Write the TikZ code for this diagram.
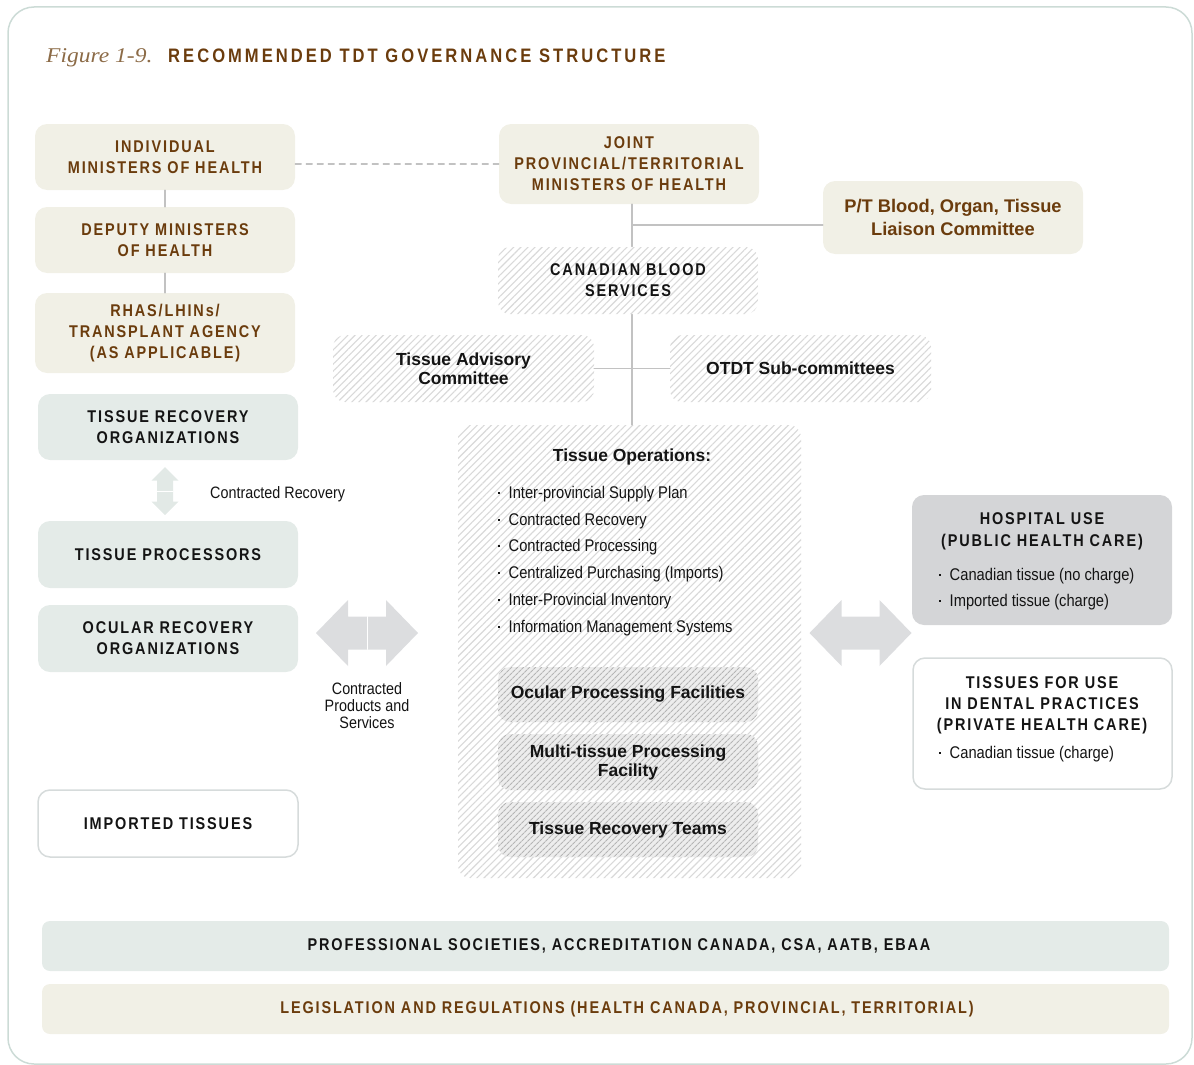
\documentclass[tikz,border=0pt]{standalone}
\usepackage{fontspec}
\usepackage{tikz}
\usetikzlibrary{patterns.meta}
\setmainfont{Liberation Sans}
\newfontfamily\narrowfont[FakeStretch=0.87]{Liberation Sans}
\newfontfamily\capsfont[FakeStretch=0.85,LetterSpace=11]{Liberation Sans}
\newfontfamily\headfont[FakeStretch=0.85,LetterSpace=15.5]{Liberation Sans}
\newfontfamily\figfont[FakeStretch=1.12]{Liberation Serif}
\newcommand{\dotmark}{\raisebox{4.6pt}{\rule{2pt}{2pt}}\hspace{8.5pt}}
\definecolor{beige}{rgb}{0.945,0.941,0.902}
\definecolor{sage}{rgb}{0.894,0.922,0.910}
\definecolor{darkbrown}{rgb}{0.42,0.235,0.05}
\definecolor{figbrown}{rgb}{0.55,0.42,0.28}
\definecolor{nearblack}{rgb}{0.08,0.08,0.08}
\definecolor{linegray}{rgb}{0.76,0.76,0.76}
\definecolor{hatchgray}{rgb}{0.85,0.85,0.85}
\definecolor{darkhatch}{rgb}{0.71,0.71,0.71}
\definecolor{hospgray}{rgb}{0.831,0.835,0.843}
\definecolor{arrowgray}{rgb}{0.863,0.867,0.875}
\definecolor{arrowsage}{rgb}{0.886,0.914,0.902}
\definecolor{framegray}{rgb}{0.80,0.86,0.84}
\definecolor{boxline}{rgb}{0.84,0.86,0.86}
\tikzstyle{every node}=[font=\narrowfont\fontsize{16.5}{17}\selectfont]

\begin{document}
\begin{tikzpicture}[x=1pt,y=-1pt,line cap=round,line join=round,
  tbox/.style={rounded corners=12pt,minimum width=260pt,minimum height=66pt,inner sep=0pt,align=center},
  capsbrown/.style={tbox,fill=beige,text=darkbrown,font=\capsfont\bfseries\fontsize{17}{21}\selectfont},
  capssage/.style={tbox,fill=sage,text=nearblack,font=\capsfont\bfseries\fontsize{17}{21}\selectfont},
  capstext/.style={inner sep=0pt,align=center,font=\capsfont\bfseries\fontsize{17}{21}\selectfont},
  hatchbox/.style={tbox,preaction={fill=white},pattern={Lines[angle=45,distance=5pt,line width=1.1pt]},pattern color=hatchgray,text=nearblack},
  darkbox/.style={tbox,minimum height=55pt,preaction={fill=gray!14},pattern={Lines[angle=45,distance=4pt,line width=1.1pt]},pattern color=darkhatch,text=nearblack,font=\bfseries\fontsize{17.5}{19}\selectfont},
  boldmixed/.style={font=\bfseries\fontsize{17.5}{19}\selectfont},
  conn/.style={linegray,line width=1.5pt},
  dashline/.style={linegray,line width=1.2pt,dash pattern=on 6pt off 5pt},
  bullet/.style={anchor=west,inner sep=0pt,text=nearblack,font=\narrowfont\fontsize{16.9}{17}\selectfont}]
\useasboundingbox (0,0) rectangle (1194,1065);
\draw [framegray,line width=1.5pt,rounded corners=26pt] (8,7) rectangle (1192,1064);
\node [anchor=base west,inner sep=0pt,text=figbrown,font=\figfont\itshape\fontsize{21}{24}\selectfont] (fig) at (46,63) {Figure 1-9.};
\node [anchor=base west,inner sep=0pt,text=darkbrown,font=\headfont\bfseries\fontsize{19.5}{22}\selectfont] (title) at (168,63) {RECOMMENDED TDT GOVERNANCE STRUCTURE};
\node [capsbrown] (indiv) at (165,157) {INDIVIDUAL\\MINISTERS OF HEALTH};
\node [capsbrown] (deputy) at (165,240) {DEPUTY MINISTERS\\OF HEALTH};
\node [capsbrown,minimum height=80pt] (rhas) at (165,333) {RHAS/LHINs/\\TRANSPLANT AGENCY\\(AS APPLICABLE)};
\node [capssage] (tro) at (168,427) {TISSUE RECOVERY\\ORGANIZATIONS};
\node [capssage,minimum height=67pt] (proc) at (168,554.5) {TISSUE PROCESSORS};
\node [capssage,minimum height=67pt] (ocular) at (168,638.5) {OCULAR RECOVERY\\ORGANIZATIONS};
\node [capssage,fill=white,draw=boxline,line width=1.5pt,minimum height=67pt] (imported) at (168,823.5) {IMPORTED TISSUES};
\node [capsbrown,minimum height=80pt] (joint) at (629,164) {JOINT\\PROVINCIAL/TERRITORIAL\\MINISTERS OF HEALTH};
\node [tbox,fill=beige,text=darkbrown,minimum height=73pt,font=\bfseries\fontsize{18.3}{23}\selectfont] (ptboc) at (953,217.5) {P/T Blood, Organ, Tissue\\Liaison Committee};
\node [hatchbox,minimum height=67pt,font=\capsfont\bfseries\fontsize{17}{21}\selectfont] (cbs) at (628,280.5) {CANADIAN BLOOD\\SERVICES};
\node [hatchbox,boldmixed,minimum width=261pt,minimum height=67pt] (tac) at (463.5,368.5) {Tissue Advisory\\Committee};
\node [hatchbox,boldmixed,minimum width=261pt,minimum height=67pt] (otdt) at (800.5,368.5) {OTDT Sub-committees};
\node [hatchbox,minimum width=343pt,minimum height=453pt] (ops) at (629.5,651.5) {};
\node [boldmixed,text=nearblack,inner sep=0pt] (optitle) at (632,457) {Tissue Operations:};
\foreach \op [count=\i] in {Inter-provincial Supply Plan,Contracted Recovery,Contracted Processing,Centralized Purchasing (Imports),Inter-Provincial Inventory,Information Management Systems}
  \node [bullet] (op\i) at (498,467.2+26.8*\i) {\dotmark\op};
\node [darkbox] (opf) at (628,694.5) {Ocular Processing Facilities};
\node [darkbox,minimum height=56pt] (mtpf) at (628,762) {Multi-tissue Processing\\Facility};
\node [darkbox] (trt) at (628,829.5) {Tissue Recovery Teams};
\node [tbox,fill=hospgray,minimum height=130pt] (hosp) at (1042,560) {};
\node [capstext,text=nearblack,font=\capsfont\bfseries\fontsize{17}{22}\selectfont] (hosptitle) at (1042,531) {HOSPITAL USE\\(PUBLIC HEALTH CARE)};
\node [bullet] (hosp1) at (939,576) {\dotmark Canadian tissue (no charge)};
\node [bullet] (hosp2) at (939,602) {\dotmark Imported tissue (charge)};
\node [tbox,fill=white,draw=boxline,line width=1.5pt,minimum width=259pt,minimum height=131pt] (dental) at (1042.5,723.5) {};
\node [capstext,text=nearblack] (dentaltitle) at (1042,705) {TISSUES FOR USE\\IN DENTAL PRACTICES\\(PRIVATE HEALTH CARE)};
\node [bullet] (dental1) at (939,754) {\dotmark Canadian tissue (charge)};
\node [tbox,fill=sage,minimum width=1127pt,minimum height=50pt,rounded corners=8pt] (prof) at (605.5,946) {};
\node [capstext,text=nearblack] (proftext) at (619,946) {PROFESSIONAL SOCIETIES, ACCREDITATION CANADA, CSA, AATB, EBAA};
\node [tbox,fill=beige,minimum width=1127pt,minimum height=50pt,rounded corners=8pt] (legis) at (605.5,1009) {};
\node [capstext,text=darkbrown] (legistext) at (627,1009) {LEGISLATION AND REGULATIONS (HEALTH CANADA, PROVINCIAL, TERRITORIAL)};
\draw [conn] (indiv) -- (deputy);
\draw [conn] (deputy) -- (rhas);
\draw [dashline] (indiv.east |- joint.west) -- (joint.west);
\coordinate (trunktop) at ([xshift=3pt]joint.south);
\coordinate (ptin) at ([yshift=-7.5pt]ptboc.west);
\draw [conn] (trunktop) -- (trunktop |- cbs.north);
\draw [conn] (trunktop |- ptin) -- (ptin);
\draw [conn] (trunktop |- cbs.south) -- (trunktop |- ops.north);
\draw [conn] (tac) -- (otdt);
\coordinate (recarrow) at (165,491);
\coordinate (leftarrow) at (367,633);
\coordinate (rightarrow) at (860.5,633);
\fill [arrowsage,shift={(recarrow)}] (0,-24) -- (13.5,-10.5) -- (8,-10.5) -- (8,10.5) -- (13.5,10.5) -- (0,24) -- (-13.5,10.5) -- (-8,10.5) -- (-8,-10.5) -- (-13.5,-10.5) -- cycle;
\draw [white,line width=0.6pt,shift={(recarrow)}] (-8,0) -- (8,0);
\fill [arrowgray,shift={(leftarrow)}] (-51,0) -- (-19,-33) -- (-19,-16.5) -- (19,-16.5) -- (19,-33) -- (51,0) -- (19,33) -- (19,16.5) -- (-19,16.5) -- (-19,33) -- cycle;
\draw [white,line width=0.6pt,shift={(leftarrow)}] (0,-16.5) -- (0,16.5);
\fill [arrowgray,shift={(rightarrow)}] (-51,0) -- (-19,-33) -- (-19,-16.5) -- (19,-16.5) -- (19,-33) -- (51,0) -- (19,33) -- (19,16.5) -- (-19,16.5) -- (-19,33) -- cycle;
\node [anchor=west,inner sep=0pt,text=nearblack] (crlabel) at (210,494) {Contracted Recovery};
\node [align=center,inner sep=0pt,text=nearblack] (cpslabel) at (367,706) {Contracted\\Products and\\Services};
\end{tikzpicture}
\end{document}
